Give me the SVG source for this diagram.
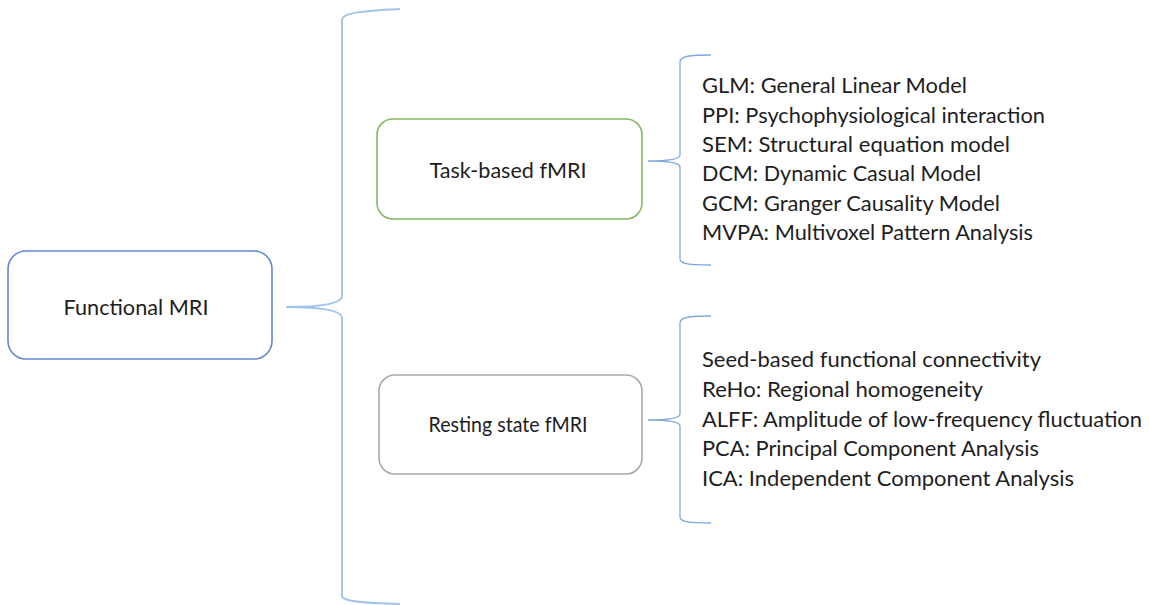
<svg xmlns="http://www.w3.org/2000/svg" width="1149" height="605" viewBox="0 0 1149 605">
  <style>
    .box { fill: #ffffff; stroke-width: 1.6; }
    .blue { stroke: #5f88cf; }
    .green { stroke: #84b862; }
    .gray { stroke: #a8a8a8; }
    .label { font-family: Lato, "Open Sans", "Liberation Sans", sans-serif; font-size: 22px; fill: #1e1e1e; }
    .mid { text-anchor: middle; }
    .brace { fill: none; stroke: #7fa9dd; stroke-width: 1.3; }
    .brace-big { fill: none; stroke: #a4c5ea; stroke-width: 2; }
  </style>
  <rect width="1149" height="605" fill="#ffffff"/>

  <!-- curly-brace connectors -->
  <g id="connectors">
    <path class="brace-big" d="M400,9 C360,11 342,13 342,20 V296 C342,304 318,307 286,307 C318,307 342,310 342,318 V596 C342,601 360,603 400,604"/>
    <path class="brace" d="M711,55 C690,55 680,56 680,62 V155 C680,160 666,161 648,161 C666,161 680,162 680,167 V259 C680,264 690,265 711,265"/>
    <path class="brace" d="M711,316 C690,316 680,317 680,323 V414 C680,419 666,420 648,420 C666,420 680,421 680,426 V517 C680,522 690,523 711,523"/>
  </g>

  <g id="node-functional-mri">
    <rect class="box blue" x="8" y="251" width="264" height="108" rx="18"/>
    <text class="label mid" x="136" y="315" textLength="145" lengthAdjust="spacingAndGlyphs">Functional MRI</text>
  </g>

  <g id="node-task-based">
    <rect class="box green" x="377" y="119" width="265" height="100" rx="16"/>
    <text class="label mid" x="508" y="178" textLength="157" lengthAdjust="spacingAndGlyphs">Task-based fMRI</text>
  </g>

  <g id="node-resting-state">
    <rect class="box gray" x="379" y="375" width="263" height="99" rx="16"/>
    <text class="label mid" x="508" y="432" textLength="159" lengthAdjust="spacingAndGlyphs">Resting state fMRI</text>
  </g>

  <g id="list-task-methods">
    <text class="label" x="702" y="93" textLength="265" lengthAdjust="spacingAndGlyphs">GLM: General Linear Model</text>
    <text class="label" x="702" y="123" textLength="343" lengthAdjust="spacingAndGlyphs">PPI: Psychophysiological interaction</text>
    <text class="label" x="702" y="152" textLength="308" lengthAdjust="spacingAndGlyphs">SEM: Structural equation model</text>
    <text class="label" x="702" y="181" textLength="279" lengthAdjust="spacingAndGlyphs">DCM: Dynamic Casual Model</text>
    <text class="label" x="702" y="211" textLength="298" lengthAdjust="spacingAndGlyphs">GCM: Granger Causality Model</text>
    <text class="label" x="702" y="240" textLength="331" lengthAdjust="spacingAndGlyphs">MVPA: Multivoxel Pattern Analysis</text>
  </g>

  <g id="list-resting-methods">
    <text class="label" x="702" y="367" textLength="339" lengthAdjust="spacingAndGlyphs">Seed-based functional connectivity</text>
    <text class="label" x="702" y="397" textLength="281" lengthAdjust="spacingAndGlyphs">ReHo: Regional homogeneity</text>
    <text class="label" x="702" y="427" textLength="440" lengthAdjust="spacingAndGlyphs">ALFF: Amplitude of low-frequency fluctuation</text>
    <text class="label" x="702" y="456" textLength="337" lengthAdjust="spacingAndGlyphs">PCA: Principal Component Analysis</text>
    <text class="label" x="702" y="486" textLength="372" lengthAdjust="spacingAndGlyphs">ICA: Independent Component Analysis</text>
  </g>
</svg>
